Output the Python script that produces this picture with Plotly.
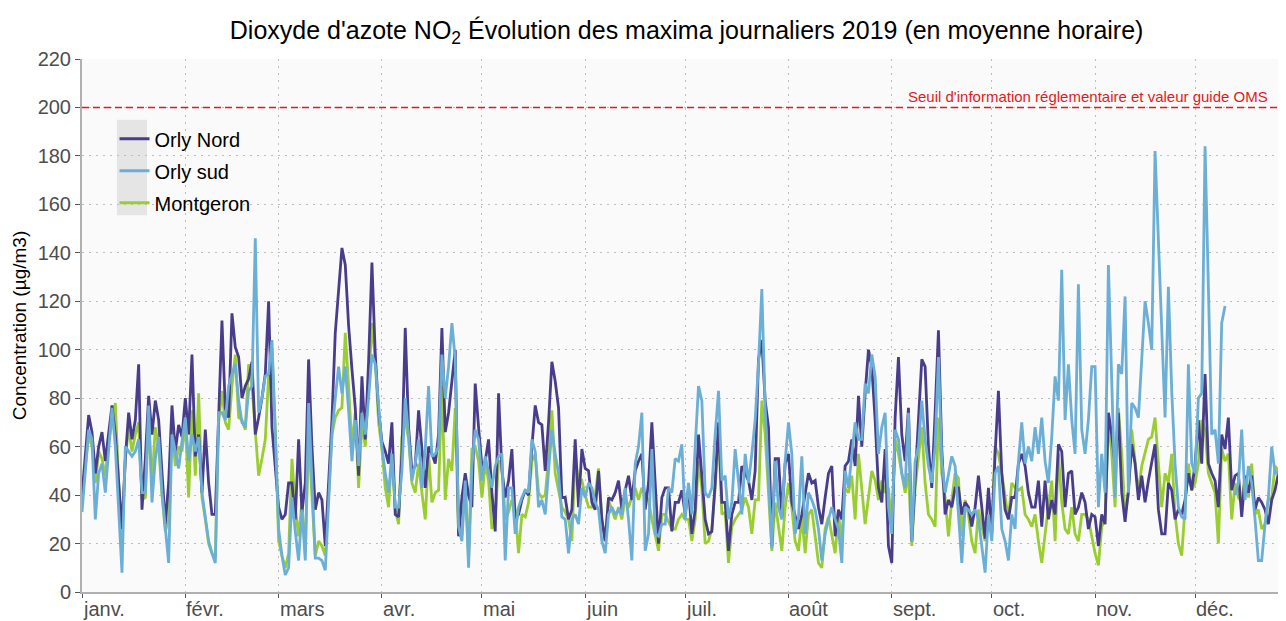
############################################################
# NO2 DAILY MAXIMA 2019
############################################################

import pandas as pd

import plotly.graph_objects as go


############################################################
# DATA
############################################################

start_date = "2019-01-01"

orly_nord = [
    40, 56, 73, 66, 49, 60, 66, 54, 65, 77, 65, 45, 26, 55, 74, 63, 71, 94, 34, 55,
    81, 65, 79, 71, 50, 28, 45, 77, 58, 69, 64, 80, 65, 98, 56, 65, 41, 67, 45, 32,
    32, 74, 112, 76, 72, 115, 101, 97, 80, 85, 88, 95, 65, 72, 80, 90, 120, 68, 50, 35,
    30, 32, 45, 45, 30, 63, 33, 45, 96, 60, 34, 41, 38, 19, 45, 71, 107, 125, 142, 135,
    110, 92, 76, 48, 89, 63, 95, 136, 98, 75, 62, 58, 53, 70, 32, 31, 57, 109, 68, 50,
    52, 75, 60, 43, 60, 57, 53, 65, 109, 66, 74, 86, 100, 23, 39, 49, 40, 35, 86, 68,
    52, 54, 63, 41, 25, 82, 50, 39, 46, 59, 30, 32, 38, 42, 40, 60, 77, 70, 69, 50,
    70, 95, 87, 76, 39, 39, 30, 34, 63, 35, 59, 51, 50, 37, 34, 50, 30, 21, 39, 38,
    41, 46, 34, 42, 48, 38, 50, 54, 57, 34, 45, 70, 43, 20, 39, 43, 43, 25, 37, 37,
    42, 32, 43, 24, 34, 65, 48, 30, 24, 25, 45, 70, 37, 37, 17, 32, 37, 37, 52, 49,
    46, 38, 50, 96, 104, 79, 68, 19, 55, 55, 31, 53, 57, 37, 32, 26, 32, 41, 49, 45,
    46, 35, 28, 39, 49, 52, 23, 34, 30, 52, 54, 63, 52, 81, 60, 82, 100, 93, 71, 43,
    37, 59, 19, 12, 72, 97, 65, 54, 76, 21, 49, 71, 96, 93, 60, 43, 74, 108, 59, 32,
    38, 35, 43, 43, 32, 37, 35, 27, 35, 48, 35, 22, 43, 24, 57, 83, 49, 34, 30, 39,
    39, 53, 57, 52, 41, 35, 35, 46, 27, 46, 30, 38, 32, 61, 58, 35, 49, 50, 32, 35,
    41, 37, 26, 32, 31, 19, 32, 28, 74, 65, 52, 74, 41, 29, 42, 61, 53, 38, 48, 37,
    46, 53, 61, 34, 24, 24, 45, 42, 30, 34, 32, 38, 49, 42, 53, 71, 53, 90, 53, 49,
    46, 35, 65, 59, 72, 42, 48, 49, 31, 48, 41, 48, 34, 39, 37, 34, 28, 38, 42, 49,
    45, 41,
]

orly_sud = [
    33, 50, 67, 63, 30, 49, 53, 41, 58, 76, 60, 35, 8, 60, 58, 56, 58, 63, 41, 41,
    77, 37, 55, 64, 41, 25, 12, 65, 58, 51, 62, 72, 54, 65, 58, 64, 41, 30, 21, 16,
    12, 74, 74, 71, 85, 90, 94, 79, 70, 68, 83, 85, 146, 74, 80, 89, 90, 104, 65, 26,
    15, 7, 10, 39, 25, 13, 34, 13, 78, 45, 14, 14, 13, 9, 35, 65, 80, 93, 82, 93,
    75, 54, 71, 52, 74, 65, 80, 98, 94, 75, 60, 49, 41, 57, 35, 35, 50, 80, 65, 46,
    53, 63, 43, 59, 85, 56, 57, 60, 98, 80, 93, 111, 96, 27, 21, 46, 10, 52, 67, 63,
    46, 56, 49, 43, 52, 56, 57, 13, 43, 43, 24, 35, 39, 42, 41, 63, 58, 35, 38, 32,
    50, 67, 57, 49, 31, 30, 16, 30, 32, 28, 43, 39, 45, 43, 37, 34, 21, 16, 32, 35,
    32, 34, 32, 43, 30, 13, 53, 60, 74, 17, 24, 59, 24, 23, 28, 28, 43, 41, 55, 54,
    61, 30, 45, 32, 60, 85, 79, 41, 39, 43, 65, 83, 46, 48, 30, 37, 59, 45, 32, 57,
    45, 57, 71, 94, 125, 76, 46, 18, 54, 35, 30, 54, 70, 57, 24, 31, 56, 24, 41, 38,
    34, 26, 13, 24, 30, 35, 30, 26, 12, 50, 43, 57, 70, 63, 63, 86, 82, 98, 89, 57,
    68, 74, 35, 24, 67, 63, 49, 43, 74, 21, 54, 60, 79, 63, 52, 45, 60, 97, 54, 41,
    49, 56, 52, 32, 12, 35, 34, 32, 34, 30, 18, 8, 32, 21, 49, 52, 26, 21, 13, 32,
    26, 54, 70, 53, 60, 54, 68, 57, 72, 54, 45, 64, 89, 79, 133, 71, 94, 71, 57, 127,
    67, 57, 71, 93, 93, 35, 57, 41, 135, 85, 39, 94, 90, 122, 41, 78, 76, 72, 97, 120,
    111, 100, 182, 147, 114, 72, 126, 83, 53, 35, 31, 30, 94, 53, 49, 80, 82, 184, 126, 65,
    67, 53, 111, 118, None, None, 40, 45, 67, 38, 52, 45, 30, 13, 13, 28, 39, 60, 49, 50,
    43, 48,
]

montgeron = [
    38, 52, 65, 60, 45, 58, 55, 48, 62, 70, 78, 45, 22, 55, 68, 58, 65, 70, 38, 39,
    70, 45, 68, 60, 40, 25, 30, 68, 52, 60, 58, 70, 39, 75, 48, 82, 39, 30, 20, 16,
    14, 70, 83, 70, 67, 85, 98, 72, 71, 67, 94, 85, 65, 48, 55, 63, 89, 101, 68, 21,
    15, 10, 16, 55, 35, 23, 37, 16, 64, 40, 15, 21, 19, 15, 40, 65, 72, 75, 76, 107,
    85, 60, 74, 43, 70, 60, 85, 111, 96, 70, 59, 43, 35, 57, 34, 28, 64, 71, 63, 45,
    41, 53, 41, 30, 57, 37, 41, 42, 85, 38, 55, 50, 76, 24, 24, 46, 13, 59, 60, 54,
    39, 53, 46, 26, 30, 54, 54, 30, 33, 38, 34, 16, 32, 31, 37, 54, 57, 41, 39, 40,
    55, 75, 49, 42, 35, 33, 30, 21, 57, 45, 46, 40, 35, 35, 40, 51, 30, 21, 38, 34,
    30, 35, 30, 39, 35, 39, 43, 38, 43, 40, 38, 30, 24, 17, 32, 32, 29, 26, 26, 30,
    32, 30, 30, 21, 30, 54, 43, 20, 21, 26, 43, 67, 32, 33, 12, 27, 30, 32, 34, 39,
    35, 24, 38, 38, 79, 65, 43, 17, 37, 26, 17, 35, 45, 35, 21, 17, 31, 16, 32, 34,
    24, 12, 10, 26, 31, 23, 16, 32, 21, 43, 41, 48, 30, 57, 43, 28, 39, 50, 46, 38,
    46, 41, 43, 27, 63, 57, 49, 41, 49, 19, 43, 57, 68, 45, 32, 30, 27, 72, 49, 39,
    23, 38, 49, 47, 23, 38, 32, 21, 16, 34, 28, 21, 32, 27, 60, 57, 49, 39, 30, 45,
    43, 42, 43, 32, 30, 27, 32, 21, 12, 24, 34, 46, 21, 57, 37, 26, 24, 35, 24, 21,
    32, 32, 30, 23, 16, 11, 27, 30, 71, 57, 35, 76, 57, 32, 40, 67, 53, 41, 52, 57,
    63, 64, 72, 53, 35, 49, 45, 57, 32, 20, 15, 35, 53, 42, 45, 53, 71, 67, 49, 45,
    41, 20, 59, 54, 57, 30, 45, 39, 37, 48, 39, 53, 32, 34, 26, 28, 38, 39, 52, 50,
    46, 45,
]

month_ticks = pd.date_range("2019-01-01", periods=12, freq="MS")

month_labels = ["janv.", "févr.", "mars", "avr.", "mai", "juin",
                "juil.", "août", "sept.", "oct.", "nov.", "déc."]

threshold = 200

threshold_label = "Seuil d'information réglementaire et valeur guide OMS"

days = pd.date_range(start_date, periods=len(orly_nord), freq="D")


############################################################
# FIGURE
############################################################

# page body has an 8px margin: figure is 8px smaller on each side
fig = go.Figure()

# draw order: green under, blue on top ; legend order via legendrank
series = [
    ("Montgeron", montgeron, "#9acd32", 3),
    ("Orly Nord", orly_nord, "#483d8b", 1),
    ("Orly sud", orly_sud, "#6baed6", 2),
]

for name, values, color, rank in series:

    fig.add_trace(
        go.Scatter(
            x=days,
            y=values,
            mode="lines",
            name=name,
            legendrank=rank,
            legendgroup=name,
            line=dict(color=color, width=2.8),
            connectgaps=False,
        )
    )

fig.add_hline(
    y=threshold,
    line=dict(color="#e31a1c", width=1.5, dash="7px,4px"),
)

fig.add_annotation(
    x=0.987, xref="paper",
    y=threshold, yref="y",
    text=threshold_label,
    showarrow=False,
    xanchor="right", yanchor="bottom",
    yshift=0,
    font=dict(size=15, color="#e31a1c"),
)

# month labels, left aligned on their tick
for tick, label in zip(month_ticks, month_labels):

    fig.add_annotation(
        x=tick, xref="x",
        y=0, yref="paper",
        text=label,
        showarrow=False,
        xanchor="left", yanchor="top",
        xshift=-1,
        yshift=-4,
        font=dict(size=20, color="#4d4d4d"),
    )

# grey key background like ggplot legend keys
fig.add_shape(
    type="rect", xref="paper", yref="paper",
    x0=0.029, x1=0.054, y0=0.707, y1=0.886,
    fillcolor="#e5e5e5", line=dict(width=0), layer="below",
)

fig.update_layout(

    width=1278,
    height=613,

    margin=dict(l=74, r=0, t=51, b=29),

    paper_bgcolor="white",
    plot_bgcolor="#fafafa",

    font=dict(family="Liberation Sans, Arial, sans-serif", color="black"),

    title=dict(
        text="Dioxyde d'azote NO<sub>2</sub> Évolution des maxima journaliers 2019 (en moyenne horaire)",
        x=0.531, xanchor="center",
        y=0.964, yanchor="middle",
        font=dict(size=25, color="black"),
    ),

    legend=dict(
        x=0.027, y=0.887,
        xanchor="left", yanchor="top",
        bgcolor="rgba(0,0,0,0)",
        font=dict(size=20, color="black"),
        traceorder="grouped",
        tracegroupgap=3,
        itemwidth=30,
    ),

    showlegend=True,
)

fig.update_xaxes(
    range=["2019-01-01", "2019-12-28 07:00"],
    tickvals=month_ticks,
    showticklabels=False,
    ticks="outside", ticklen=4, tickcolor="#555555",
    showgrid=True, gridcolor="#bdbdbd", griddash="2px,5px", gridwidth=1,
    showline=True, linecolor="#b0b0b0", linewidth=2,
    zeroline=False,
)

fig.update_yaxes(
    range=[0, 220],
    dtick=20,
    ticks="outside", ticklen=5, tickcolor="#555555",
    tickfont=dict(size=20, color="#4d4d4d"),
    showgrid=True, gridcolor="#bdbdbd", griddash="2px,5px", gridwidth=1,
    showline=True, linecolor="#b0b0b0", linewidth=2,
    zeroline=False,
    title=dict(text="Concentration (µg/m3)", font=dict(size=19, color="black"), standoff=6),
)

fig.write_html("out.html")
